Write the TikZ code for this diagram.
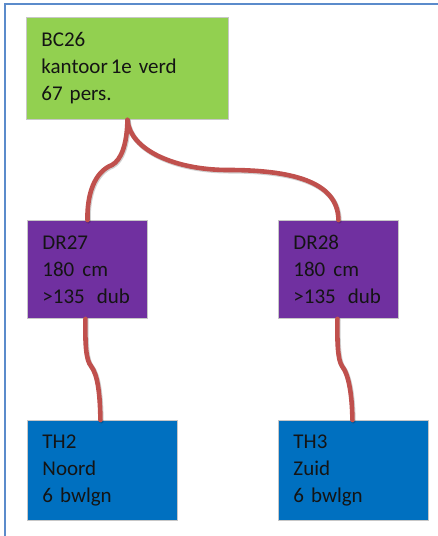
\documentclass[tikz,border=0pt]{standalone}
\usepackage{fontspec}
\setmainfont{Carlito}
\usetikzlibrary{calc}
\definecolor{framebl}{HTML}{5B8BCB}
\definecolor{boxgreen}{HTML}{92D050}
\definecolor{boxpurple}{HTML}{7030A0}
\definecolor{boxblue}{HTML}{0070C0}
\definecolor{linkred}{HTML}{C0504D}
\definecolor{txt}{HTML}{141414}
\tikzset{
  unit/.style={draw=black!22, line width=0.9pt, align=left, anchor=north west,
    inner xsep=15pt, inner ysep=0pt, text=txt,
    font=\fontsize{21}{27}\selectfont},
  greenbox/.style={unit, fill=boxgreen},
  purplebox/.style={unit, fill=boxpurple},
  bluebox/.style={unit, fill=boxblue},
  link/.style={draw=linkred, line width=4.6pt, line cap=round},
  linkshadow/.style={draw=black, opacity=0.18, line width=5pt, line cap=round, transform canvas={shift={(0.8pt,-1pt)}}}
}
\begin{document}
\begin{tikzpicture}[x=1pt,y=-1pt]
  \useasboundingbox (0,0) rectangle (438,536);
  \fill[white] (0,0) rectangle (438,536);
  % frame
  \draw[framebl, line width=2pt] (438,4) -- (5,4) -- (5,536);

  % boxes
  \node[greenbox, text width=172pt, minimum height=102pt] (bc) at (26,17)
    {BC26\\kantoor\hspace{3pt}1e verd\\67 pers.};
  \node[purplebox, text width=90pt, minimum height=98pt] (dra) at (27,220)
    {DR27\\180\hspace{8pt}cm\\>135\hspace{12pt}dub};
  \node[purplebox, text width=90pt, minimum height=98pt] (drb) at (278,220)
    {DR28\\180\hspace{8pt}cm\\>135\hspace{12pt}dub};
  \node[bluebox, text width=120pt, minimum height=100pt] (tha) at (27,420)
    {TH2\\Noord\\6 bwlgn};
  \node[bluebox, text width=120pt, minimum height=100pt] (thb) at (278,420)
    {TH3\\Zuid\\6 bwlgn};

  % connectors
  \foreach \s in {linkshadow, link} {
    \path[\s] (bc.south) .. controls (127,145) and (121,160) .. (112,165)
      .. controls (94,172) and (87,195) .. (dra.north);
    \path[\s] (bc.south) .. controls (130,150) and (175,170) .. (228,170)
      .. controls (300,170) and (338,185) .. (drb.north);
    \path[\s] ([xshift=-2pt]dra.south) .. controls (85,345) and (86,360) .. (91,366)
      .. controls (98,375) and (100,395) .. ([xshift=-2pt]tha.north);
    \path[\s] ([xshift=-1pt]drb.south) .. controls (337,345) and (338,360) .. (342,366)
      .. controls (349,375) and (352,395) .. ([xshift=-1pt]thb.north);
  }
\end{tikzpicture}
\end{document}
